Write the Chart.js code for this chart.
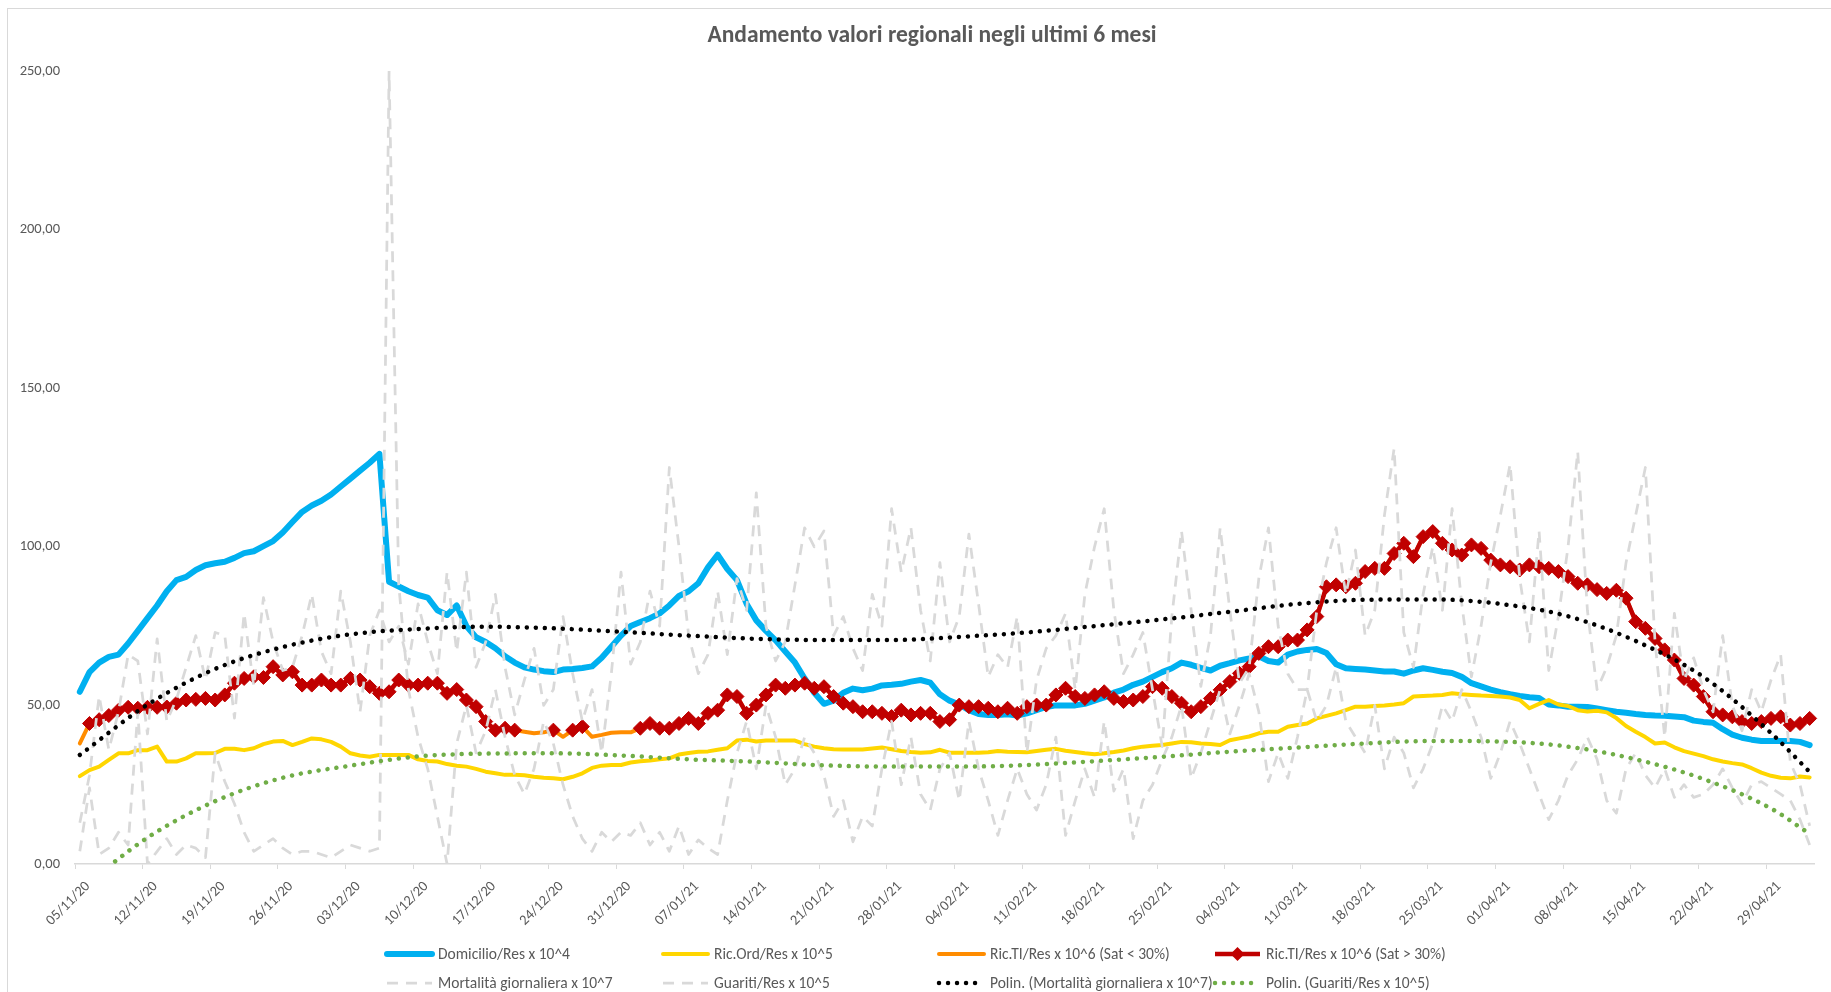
<!DOCTYPE html>
<html lang="it">
<head>
<meta charset="utf-8">
<title>Andamento valori regionali negli ultimi 6 mesi</title>
<script src="https://cdn.jsdelivr.net/npm/chart.js@4.4.1/dist/chart.umd.min.js"></script>
<style>
  html, body { margin: 0; padding: 0; background: #fff; }
  #wrap { width: 1831px; height: 992px; }
</style>
</head>
<body>
<div id="wrap"><canvas id="chart" width="1831" height="992"></canvas></div>
<script>
// ==================================================
// DATA
// ==================================================
// one category per day, from 05/11/20
const dateLabels = [];
for (let d = 0; d < 180; d++) {
  const dt = new Date(2020, 10, 5 + d);
  dateLabels.push(
    String(dt.getDate()).padStart(2, "0") + "/" +
    String(dt.getMonth() + 1).padStart(2, "0") + "/" +
    String(dt.getFullYear()).slice(2)
  );
}

const domicilio = [
  54.3, 60.5, 63.5, 65.3, 66, 69.5, 73.5, 77.5, 81.5, 86,
  89.5, 90.5, 92.7, 94.2, 94.8, 95.3, 96.5, 98, 98.6, 100.2,
  101.8, 104.5, 107.8, 111, 113, 114.5, 116.5, 119, 121.5, 124,
  126.5, 129.3, 89, 87.5, 86, 84.8, 84, 80, 78.5, 81.5,
  75, 71.5, 70, 68, 65.5, 63.5, 62, 61.3, 60.8, 60.5,
  61.3, 61.5, 61.8, 62.3, 65, 68.5, 72, 75, 76.3, 77.5,
  79, 81.5, 84.5, 86, 88.5, 93.5, 97.5, 93, 89.5, 82,
  76.8, 73.5, 70.5, 67, 63.5, 58.5, 54, 50.5, 51.5, 54,
  55.3, 54.8, 55.3, 56.3, 56.5, 56.8, 57.5, 58, 57.2, 53.5,
  51.5, 50.3, 48.5, 47.3, 47, 47, 47.2, 46.8, 47.5, 48.5,
  49.5, 50, 50, 50, 50.5, 51.5, 52.5, 54, 55, 56.5,
  57.5, 59, 60.5, 61.7, 63.5, 62.8, 61.8, 61, 62.5, 63.3,
  64.2, 64.8, 65.5, 64, 63.5, 66, 67, 67.5, 67.8, 66.5,
  63, 61.7, 61.5, 61.3, 61, 60.7, 60.7, 60, 61, 61.7,
  61.2, 60.6, 60.2, 59, 57, 56, 55, 54.2, 53.5, 53,
  52.6, 52.3, 50.3, 50, 49.6, 49.6, 49.5, 49, 48.5, 48,
  47.7, 47.3, 47, 46.8, 46.7, 46.5, 46.3, 45.2, 44.8, 44.5,
  42.5, 40.8, 39.8, 39.2, 38.8, 38.8, 38.8, 38.8, 38.5, 37.5,
];

const ricOrd = [
  27.7, 29.6, 30.7, 32.8, 34.9, 34.9, 35.9, 35.9, 37, 32.3,
  32.3, 33.3, 34.9, 34.9, 35, 36.3, 36.3, 35.9, 36.5, 37.8,
  38.6, 38.8, 37.5, 38.5, 39.6, 39.3, 38.5, 37, 34.9, 34.2,
  33.8, 34.4, 34.4, 34.4, 34.4, 33, 32.5, 32.3, 31.5, 31,
  30.7, 30, 29.1, 28.6, 28.1, 28.1, 28, 27.5, 27.2, 27,
  26.7, 27.5, 28.6, 30.3, 31, 31.2, 31.2, 32, 32.4, 32.6,
  33, 33.3, 34.5, 35, 35.4, 35.5, 36, 36.5, 38.9, 39.2,
  38.6, 38.9, 38.9, 38.9, 38.9, 37.8, 37, 36.5, 36.2, 36.1,
  36.1, 36.1, 36.4, 36.7, 36.2, 35.6, 35.3, 35.1, 35.2, 36,
  35.1, 35.1, 35.1, 35.1, 35.2, 35.6, 35.4, 35.3, 35.2, 35.6,
  36, 36.3, 35.7, 35.3, 34.9, 34.6, 34.9, 35.3, 35.8, 36.5,
  37, 37.3, 37.5, 38, 38.5, 38.4, 38, 37.8, 37.5, 39,
  39.6, 40.2, 41.2, 41.7, 41.7, 43.3, 43.8, 44.3, 45.9, 46.7,
  47.5, 48.5, 49.6, 49.6, 49.8, 50, 50.3, 50.7, 52.8, 53,
  53.1, 53.3, 53.8, 53.5, 53.3, 53.1, 53, 52.8, 52.5, 51.7,
  49.1, 50.5, 51.7, 50.3, 49.8, 48.5, 48.1, 48.3, 47.8, 46,
  43.5, 41.7, 40, 38, 38.3, 36.8, 35.6, 34.8, 34, 33,
  32.3, 31.8, 31.4, 30.2, 28.8, 27.8, 27.2, 27, 27.6, 27.3,
];

const ricTI = [
  38, 44.3, 45.5, 46.8, 48.5, 49.4, 49.1, 49.4, 49.4, 49.5,
  50.7, 51.7, 51.9, 52.2, 51.7, 53.3, 57, 58.5, 59, 58.8,
  62.2, 59.6, 60.6, 56.4, 56.4, 58, 56.4, 56.4, 58.5, 58,
  55.9, 53.8, 54.3, 58, 56.4, 56.4, 57, 57, 53.8, 55,
  51.7, 49.6, 44.9, 42.2, 42.8, 42.2, 41.7, 41.2, 41.5, 42.2,
  40.1, 42.2, 43.3, 40.1, 40.7, 41.4, 41.5, 41.5, 42.8, 44.3,
  42.8, 42.8, 44.3, 45.9, 44.3, 47.5, 48.5, 53.3, 52.8, 47.5,
  50.1, 53.3, 56.4, 55.4, 56.4, 57, 55.4, 55.9, 52.8, 50.7,
  49.6, 48, 48, 47.5, 46.5, 48.5, 47, 47.5, 47.5, 44.9,
  45.5, 50.1, 49.6, 49.6, 49.1, 48, 49.1, 47.5, 49.6, 50.1,
  50.1, 53.3, 55.4, 52.8, 52.2, 53.3, 54.3, 52.2, 51.2, 51.7,
  52.8, 55.9, 55.4, 52.8, 50.7, 48, 49.6, 52.2, 54.9, 57.5,
  60.1, 62.2, 66.4, 68.5, 68.5, 70.6, 70.6, 73.8, 78, 87.4,
  88, 87.4, 88.5, 92.2, 93.2, 93.2, 97.9, 101.1, 96.9, 103.2,
  104.8, 101.1, 99, 97.4, 100.6, 99.5, 95.8, 94.3, 93.7, 92.7,
  94.3, 93.7, 93.2, 92.2, 90.6, 88.5, 88, 86.5, 85.3, 86.3,
  83.8, 76.4, 74.3, 71.1, 67.5, 64.3, 58.5, 56.4, 52.8, 48,
  47, 46.4, 44.9, 44.3, 44.9, 45.9, 46.4, 43.8, 44.3, 45.9,
];
// days with saturation below 30%
const satSotto30 = [0, 46, 47, 48, 50, 53, 54, 55, 56, 57];

const mortalita = [
  13, 28, 53, 36, 48, 66, 64, 41, 71, 45,
  52, 62, 72, 58, 73, 72, 46, 79, 56, 84,
  70, 61, 62, 72, 85, 67, 60, 86, 70, 48,
  72, 80, 70, 75, 63, 82, 70, 60, 92, 67,
  92, 62, 70, 85, 62, 47, 58, 68, 50, 55,
  78, 60, 45, 55, 35, 60, 92, 63, 70, 86,
  75, 125, 100, 72, 60, 66, 86, 66, 90, 80,
  117, 75, 64, 70, 88, 106, 100, 105, 72, 78,
  68, 61, 85, 75, 112, 92, 106, 80, 64, 95,
  70, 78, 104, 82, 59, 66, 62, 78, 35, 58,
  68, 72, 79, 55, 85, 100, 112, 80, 60, 66,
  73, 55, 37, 78, 105, 80, 56, 72, 106, 80,
  57, 62, 90, 106, 75, 60, 55, 55, 80, 95,
  106, 85, 99, 72, 80, 110, 131, 73, 62, 85,
  100, 80, 112, 82, 59, 75, 95, 110, 126, 90,
  70, 105, 61, 78, 100, 130, 80, 55, 62, 72,
  95, 110, 125, 70, 40, 79, 58, 65, 55, 48,
  72, 50, 42, 55, 48, 58, 66, 32, 25, 12,
];

const guariti = [
  4, 24, 3, 5, 10, 6, 48, 0, 4, 8,
  3, 6, 5, 2, 35, 26, 19, 10, 4, 6,
  8, 5, 3, 4, 4, 3, 2, 4, 6, 5,
  4, 5, 250, 88, 55, 40, 30, 15, 0, 38,
  50, 35, 42, 55, 40, 28, 22, 30, 45, 38,
  25, 15, 8, 4, 10, 7, 10, 9, 13, 6,
  10, 4, 12, 3, 7.6, 5, 3, 20, 35, 45,
  30, 50, 40, 25, 30, 40, 35, 28, 15, 20,
  7, 15, 12, 30, 45, 25, 40, 22, 17, 30,
  35, 20, 45, 30, 20, 9, 20, 30, 22, 17,
  25, 40, 9, 20, 30, 21, 45, 23, 30, 8,
  20, 25, 33, 40, 50, 27, 35, 45, 55, 41,
  50, 60, 48, 26, 35, 27, 40, 55, 45, 50,
  62, 45, 40, 35, 50, 30, 40, 35, 24, 30,
  38, 50, 45, 55, 48, 40, 27, 35, 45, 38,
  30, 22, 14, 20, 28, 33, 40, 33, 20, 16,
  30, 35, 28, 24, 30, 21, 25, 21, 22, 25,
  30, 24, 19, 25, 26, 24, 22, 20, 14, 6,
];

// polynomial trendlines, read once a week
const trendDays = [0, 7, 14, 21, 28, 35, 42, 49, 56, 63, 70, 77, 84, 91, 98,
  105, 112, 119, 126, 133, 140, 147, 154, 161, 168, 175, 179];
const polyMortalita = [34.4, 50.2, 61.5, 68.4, 72.4, 74.1, 74.8, 74.3, 73.2, 72,
  71, 70.6, 70.6, 71.6, 73, 75, 77.1, 79.5, 82, 83.3, 83.4, 82, 78.1, 70.3, 59, 41.3, 29];
const polyGuariti = [-8, 8.3, 19.8, 27.2, 31, 33.9, 34.8, 34.9, 34.2, 33,
  32.2, 31.1, 30.7, 30.7, 31.2, 32.4, 33.8, 35.4, 36.7, 38, 38.8, 38.6, 37, 33, 26.8, 17.5, 9.5];

// ==================================================
// HELPERS
// ==================================================
const FONT = "Carlito, Lato, sans-serif";
const TEXT_COLOR = "#595959";

const trendSeries = (values) => {
  const out = dateLabels.map(() => null);
  trendDays.forEach((day, k) => { out[day] = values[k]; });
  return out;
};

const ricTIAlta = ricTI.map((v, i) => (satSotto30.includes(i) ? null : v));

// ==================================================
// FRAME, TITLE AND LEGEND
// ==================================================
const excelFrame = {
  id: "excelFrame",
  beforeDraw(chart) {
    const ctx = chart.ctx;
    ctx.save();
    ctx.fillStyle = "#fff";
    ctx.fillRect(0, 0, chart.width, chart.height);
    ctx.strokeStyle = "#d9d9d9";
    ctx.lineWidth = 1;
    ctx.strokeRect(7.5, 8.5, chart.width, chart.height);
    ctx.restore();
  },
  afterDraw(chart) {
    const ctx = chart.ctx;
    ctx.save();
    // title
    ctx.fillStyle = TEXT_COLOR;
    ctx.font = "bold 23.5px " + FONT;
    ctx.textAlign = "center";
    ctx.textBaseline = "middle";
    ctx.fillText("Andamento valori regionali negli ultimi 6 mesi", 932, 36);

    // legend: 4 columns, 2 rows
    ctx.textAlign = "left";
    ctx.font = "15.5px " + FONT;
    chart.data.datasets.forEach((ds, i) => {
      const x = 387 + (i % 4) * 276;
      const y = 954 + Math.floor(i / 4) * 29;
      ctx.save();
      ctx.strokeStyle = ds.borderColor;
      ctx.lineWidth = ds.borderWidth;
      ctx.setLineDash(ds.borderDash || []);
      ctx.lineCap = ds.borderCapStyle || "butt";
      ctx.beginPath();
      ctx.moveTo(x, y);
      ctx.lineTo(x + 45, y);
      ctx.stroke();
      if (ds.pointStyle === "rectRot") {
        const r = ds.pointRadius;
        ctx.setLineDash([]);
        ctx.fillStyle = ds.borderColor;
        ctx.beginPath();
        ctx.moveTo(x + 22.5, y - r);
        ctx.lineTo(x + 22.5 + r, y);
        ctx.lineTo(x + 22.5, y + r);
        ctx.lineTo(x + 22.5 - r, y);
        ctx.closePath();
        ctx.fill();
      }
      ctx.restore();
      ctx.fillText(ds.label, x + 51, y + 1);
    });
    ctx.restore();
  },
};

// ==================================================
// CHART
// ==================================================
const dotted = [0.01, 9];

new Chart(document.getElementById("chart"), {
  type: "line",
  data: {
    labels: dateLabels,
    datasets: [
      {
        label: "Domicilio/Res x 10^4",
        data: domicilio,
        borderColor: "#00b0f0",
        borderWidth: 6,
        borderCapStyle: "round",
        order: 8,
      },
      {
        label: "Ric.Ord/Res x 10^5",
        data: ricOrd,
        borderColor: "#ffd600",
        borderWidth: 4,
        borderCapStyle: "round",
        order: 7,
      },
      {
        label: "Ric.TI/Res x 10^6 (Sat < 30%)",
        data: ricTI,
        borderColor: "#ff8c00",
        borderWidth: 4,
        borderCapStyle: "round",
        order: 6,
      },
      {
        label: "Ric.TI/Res x 10^6 (Sat > 30%)",
        data: ricTIAlta,
        borderColor: "#c00000",
        borderWidth: 4.5,
        pointStyle: "rectRot",
        pointRadius: 7,
        pointBackgroundColor: "#c00000",
        pointBorderColor: "#c00000",
        pointBorderWidth: 1,
        order: 5,
      },
      {
        label: "Mortalità giornaliera x 10^7",
        data: mortalita,
        borderColor: "#d9d9d9",
        borderWidth: 2.75,
        borderDash: [11, 8],
        order: 4,
      },
      {
        label: "Guariti/Res x 10^5",
        data: guariti,
        borderColor: "#d9d9d9",
        borderWidth: 2.75,
        borderDash: [11, 8],
        order: 3,
      },
      {
        label: "Polin. (Mortalità giornaliera x 10^7)",
        data: trendSeries(polyMortalita),
        borderColor: "#000000",
        borderWidth: 4.5,
        borderDash: dotted,
        borderCapStyle: "round",
        spanGaps: true,
        cubicInterpolationMode: "monotone",
        order: 2,
      },
      {
        label: "Polin. (Guariti/Res x 10^5)",
        data: trendSeries(polyGuariti),
        borderColor: "#70ad47",
        borderWidth: 4.5,
        borderDash: dotted,
        borderCapStyle: "round",
        spanGaps: true,
        cubicInterpolationMode: "monotone",
        clip: { left: 10, top: 0, right: 10, bottom: 0 },
        order: 1,
      },
    ],
  },
  options: {
    responsive: false,
    animation: false,
    devicePixelRatio: 1,
    layout: { padding: { left: 0, right: 14, top: 71, bottom: 0 } },
    elements: {
      point: { radius: 0 },
      line: { tension: 0, borderJoinStyle: "round" },
    },
    plugins: {
      legend: { display: false },
      title: { display: false },
      tooltip: { enabled: false },
    },
    scales: {
      x: {
        offset: true,
        grid: {
          offset: true,
          drawOnChartArea: false,
          drawTicks: true,
          tickLength: 5,
          color: (c) => (c.index % 7 === 0 ? "#d9d9d9" : "rgba(0,0,0,0)"),
        },
        border: { display: true, color: "#d9d9d9", width: 1.5 },
        ticks: {
          autoSkip: false,
          minRotation: 45,
          maxRotation: 45,
          padding: 9,
          labelOffset: 8,
          color: TEXT_COLOR,
          font: { family: FONT, size: 14.5 },
          callback: (value, index) => (index % 7 === 0 ? dateLabels[index] : ""),
        },
        afterFit: (scale) => { scale.height = 128; },
      },
      y: {
        min: 0,
        max: 250,
        grid: { drawOnChartArea: false, drawTicks: false },
        border: { display: false },
        ticks: {
          stepSize: 50,
          padding: 15,
          color: TEXT_COLOR,
          font: { family: FONT, size: 14.5 },
          callback: (value) => value.toFixed(2).replace(".", ","),
        },
        afterFit: (scale) => { scale.width = 75; },
      },
    },
  },
  plugins: [excelFrame],
});
</script>
</body>
</html>
